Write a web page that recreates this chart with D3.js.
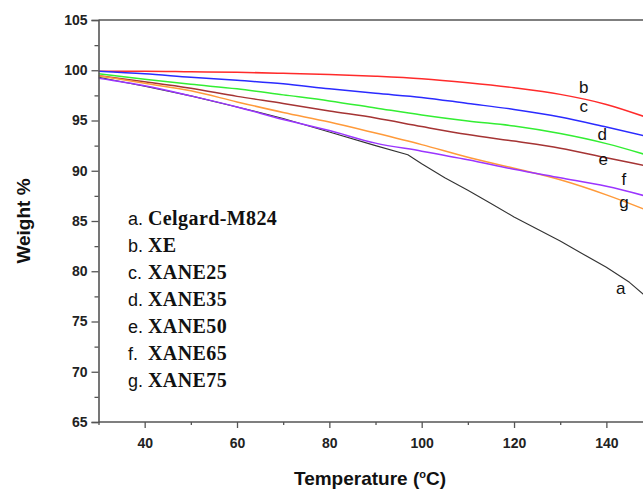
<!DOCTYPE html>
<html>
<head>
<meta charset="utf-8">
<script src="https://cdn.jsdelivr.net/npm/d3@7"></script>
<style>
  html, body { margin: 0; padding: 0; background: #fff; overflow: hidden; }
  svg { display: block; }
</style>
</head>
<body>
<svg id="chart" width="643" height="490"></svg>
<script>
// TGA curves: weight retained (%) against temperature (°C)
const temps = [30, 40, 50, 60, 70, 80, 90, 100, 110, 120, 130, 140, 150];
const tempsCelgard = [30, 40, 50, 60, 70, 80, 90, 97, 100, 105, 110, 115, 120, 125, 130, 135, 140, 145, 150];

const celgard = [99.3, 98.4, 97.45, 96.35, 95.2, 93.85, 92.5, 91.6, 90.7, 89.3, 88.05, 86.75, 85.4, 84.2, 83.0, 81.7, 80.4, 78.9, 76.9];
const xe      = [99.9, 99.9, 99.85, 99.8, 99.7, 99.58, 99.4, 99.15, 98.75, 98.25, 97.6, 96.6, 95.1];
const xane25  = [99.9, 99.65, 99.3, 99.0, 98.65, 98.15, 97.7, 97.3, 96.7, 96.1, 95.35, 94.35, 93.3];
const xane35  = [99.65, 99.1, 98.6, 98.15, 97.55, 96.95, 96.25, 95.55, 94.95, 94.45, 93.7, 92.7, 91.4];
const xane50  = [99.45, 98.85, 98.2, 97.4, 96.7, 95.95, 95.25, 94.4, 93.6, 92.95, 92.25, 91.3, 90.35];
const xane65  = [99.2, 98.45, 97.45, 96.35, 95.1, 94.0, 92.75, 91.95, 91.1, 90.15, 89.3, 88.45, 87.3];
const xane75  = [99.45, 98.7, 97.95, 96.85, 95.8, 94.85, 93.75, 92.6, 91.35, 90.25, 89.1, 87.6, 85.85];

const seriesKeys   = ["a", "b", "c", "d", "e", "f", "g"];
const seriesNames  = ["Celgard-M824", "XE", "XANE25", "XANE35", "XANE50", "XANE65", "XANE75"];
const seriesColors = ["#333333", "#ff2b2b", "#2b2bff", "#33ee33", "#a53434", "#9b35ff", "#ff9a3a"];
// where each curve's letter sits, in data units (temperature, weight)
const labelTemps   = [143.1, 135.1, 135.1, 139.1, 139.3, 143.8, 143.8];
const labelWeights = [77.74, 97.69, 95.85, 93.06, 90.57, 88.58, 86.33];

const xTicks = [40, 60, 80, 100, 120, 140];
const yTicks = [65, 70, 75, 80, 85, 90, 95, 100, 105];

const series = [
  { t: tempsCelgard, w: celgard, curve: d3.curveLinear, width: 1.1 },
  { t: temps, w: xe,     curve: d3.curveMonotoneX, width: 1.5 },
  { t: temps, w: xane25, curve: d3.curveMonotoneX, width: 1.5 },
  { t: temps, w: xane35, curve: d3.curveMonotoneX, width: 1.5 },
  { t: temps, w: xane50, curve: d3.curveMonotoneX, width: 1.5 },
  { t: temps, w: xane65, curve: d3.curveMonotoneX, width: 1.5 },
  { t: temps, w: xane75, curve: d3.curveMonotoneX, width: 1.5 }
].map((s, i) => ({
  ...s,
  key: seriesKeys[i],
  name: seriesNames[i],
  color: seriesColors[i],
  points: s.t.map((t, j) => [t, s.w[j]])
}));

const svg = d3.select("#chart");
const plotLeft = 98.5, plotTop = 20, plotBottom = 422, plotRight = 643;
const x = d3.scaleLinear().domain([30, 150]).range([plotLeft, plotLeft + 120 * 4.617]);
const y = d3.scaleLinear().domain([65, 105]).range([plotBottom, plotTop]);

const axisColor = "#555";
const tickFont = "'Liberation Sans', Arial, sans-serif";

// curves (drawn under the axes)
svg.append("clipPath").attr("id", "plot-clip")
  .append("rect")
  .attr("x", plotLeft).attr("y", plotTop)
  .attr("width", plotRight - plotLeft).attr("height", plotBottom - plotTop);

const plot = svg.append("g").attr("clip-path", "url(#plot-clip)");
const drawOrder = [1, 2, 3, 4, 6, 0, 5];
drawOrder.forEach(i => {
  const s = series[i];
  plot.append("path")
    .datum(s.points)
    .attr("fill", "none")
    .attr("stroke", s.color)
    .attr("stroke-width", s.width)
    .attr("stroke-linejoin", "round")
    .attr("d", d3.line().x(d => x(d[0])).y(d => y(d[1])).curve(s.curve));
});

// bottom axis
const xAxis = svg.append("g").attr("transform", `translate(0,${plotBottom})`)
  .call(d3.axisBottom(x).tickValues(xTicks).tickSize(6).tickPadding(10).tickFormat(d3.format("d")));
const xMinor = svg.append("g").attr("transform", `translate(0,${plotBottom})`)
  .call(d3.axisBottom(x).tickValues(d3.range(30, 151, 20)).tickSize(3).tickFormat(""));

// left axis
const yAxis = svg.append("g").attr("transform", `translate(${plotLeft},0)`)
  .call(d3.axisLeft(y).tickValues(yTicks).tickSize(7).tickPadding(4).tickFormat(d3.format("d")));
const yMinor = svg.append("g").attr("transform", `translate(${plotLeft},0)`)
  .call(d3.axisLeft(y).tickValues(d3.range(67.5, 105, 5)).tickSize(4).tickFormat(""));

[xAxis, xMinor, yAxis, yMinor].forEach(g => {
  g.select(".domain").attr("stroke", axisColor).attr("stroke-width", 1.6);
  g.selectAll(".tick line").attr("stroke", axisColor).attr("stroke-width", 1.3);
  g.selectAll(".tick text")
    .attr("fill", "#222")
    .style("font-family", tickFont)
    .style("font-weight", "bold")
    .style("font-size", "14px");
});
xAxis.select(".domain").attr("d", `M${plotLeft},0H${plotRight}`);
xMinor.select(".domain").remove();
yMinor.select(".domain").remove();

// top frame line
svg.append("line")
  .attr("x1", plotLeft).attr("x2", plotRight).attr("y1", plotTop).attr("y2", plotTop)
  .attr("stroke", axisColor).attr("stroke-width", 1.6);

// curve letters
svg.append("g").selectAll("text")
  .data(series)
  .join("text")
  .attr("x", (d, i) => x(labelTemps[i]))
  .attr("y", (d, i) => y(labelWeights[i]))
  .attr("text-anchor", "middle")
  .style("font-family", tickFont)
  .style("font-size", "17px")
  .attr("fill", "#111")
  .text(d => d.key);

// legend
const legend = svg.append("g");
series.forEach((s, i) => {
  const row = legend.append("text")
    .attr("y", 225 + i * 27)
    .attr("fill", "#111");
  row.append("tspan")
    .attr("x", 128)
    .style("font-family", tickFont)
    .style("font-size", "18px")
    .text(s.key + ".");
  row.append("tspan")
    .attr("x", 148)
    .style("font-family", "'Liberation Serif', 'Times New Roman', serif")
    .style("font-weight", "bold")
    .style("font-size", "20px")
    .style("letter-spacing", "0.4px")
    .text(s.name);
});

// axis titles
svg.append("text")
  .attr("transform", "translate(30,221) rotate(-90)")
  .attr("text-anchor", "middle")
  .style("font-family", tickFont)
  .style("font-weight", "bold")
  .style("font-size", "19px")
  .attr("fill", "#111")
  .text("Weight %");

const xTitle = svg.append("text")
  .attr("x", 370).attr("y", 485)
  .attr("text-anchor", "middle")
  .style("font-family", tickFont)
  .style("font-weight", "bold")
  .style("font-size", "19px")
  .attr("fill", "#111");
xTitle.append("tspan").text("Temperature (");
xTitle.append("tspan").attr("dy", -7).style("font-size", "11px").text("o");
xTitle.append("tspan").attr("dy", 7).text("C)");
</script>
</body>
</html>
